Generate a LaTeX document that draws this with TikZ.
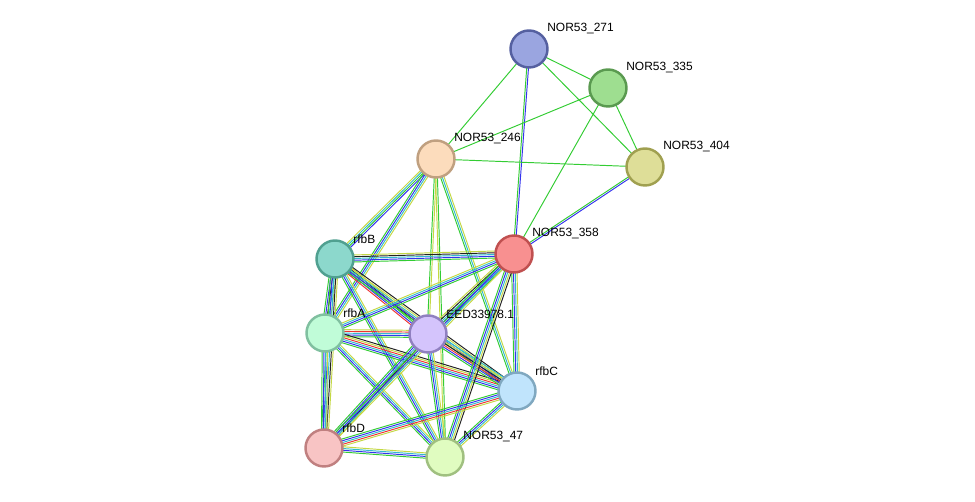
\documentclass[tikz,border=0pt]{standalone}
\usepackage{fontspec}
\setmainfont{Liberation Sans}
\usetikzlibrary{calc,backgrounds}
\definecolor{eg}{HTML}{33CC33}
\definecolor{eb}{HTML}{3333EE}
\definecolor{ec}{HTML}{33BBCC}
\definecolor{ey}{HTML}{C4D844}
\definecolor{ek}{HTML}{222222}
\definecolor{er}{HTML}{EE3333}
\tikzset{pn/.style={circle,draw,line width=1.4pt,minimum size=0.74cm,inner sep=0pt},
         lbl/.style={anchor=west,inner sep=0pt,font=\fontsize{6.8}{8}\selectfont}}
% edge with parallel coloured strands
\newcommand{\lnk}[4]{%
  \foreach \cc [count=\i] in {#4} {
    \pgfmathsetmacro{\off}{(\i-0.5-#3/2)*1.0}
    \draw[draw=e\cc,line width=0.55pt] ($(#1)!\off pt!90:(#2)$) -- ($(#2)!\off pt!-90:(#1)$);
  }}
\begin{document}
\begin{tikzpicture}[x=0.02cm,y=-0.02cm]
\useasboundingbox (0,0) rectangle (975,502);
% proteins
\node[pn,fill={rgb,255:red,154;green,165;blue,224},draw={rgb,255:red,85;green,96;blue,160}] (n271) at (529,49) {};
\node[pn,fill={rgb,255:red,158;green,222;blue,144},draw={rgb,255:red,90;green,154;blue,80}] (n335) at (608,88) {};
\node[pn,fill={rgb,255:red,222;green,222;blue,152},draw={rgb,255:red,160;green,160;blue,80}] (n404) at (645,167) {};
\node[pn,fill={rgb,255:red,252;green,220;blue,188},draw={rgb,255:red,192;green,160;blue,128}] (n246) at (436,159) {};
\node[pn,fill={rgb,255:red,248;green,144;blue,144},draw={rgb,255:red,192;green,80;blue,80}] (n358) at (514,254) {};
\node[pn,fill={rgb,255:red,140;green,216;blue,204},draw={rgb,255:red,80;green,160;blue,144}] (rfbB) at (335,259) {};
\node[pn,fill={rgb,255:red,192;green,252;blue,216},draw={rgb,255:red,128;green,192;blue,160}] (rfbA) at (325,333) {};
\node[pn,fill={rgb,255:red,212;green,196;blue,252},draw={rgb,255:red,144;green,128;blue,192}] (eed) at (428,334) {};
\node[pn,fill={rgb,255:red,192;green,228;blue,252},draw={rgb,255:red,128;green,168;blue,192}] (rfbC) at (517,391) {};
\node[pn,fill={rgb,255:red,248;green,196;blue,196},draw={rgb,255:red,192;green,128;blue,128}] (rfbD) at (324,448) {};
\node[pn,fill={rgb,255:red,224;green,252;blue,192},draw={rgb,255:red,160;green,192;blue,128}] (n47) at (445,457) {};
% labels
\node[lbl] (l271) at ($(n271)+(18,-20)$) {NOR53\_271};
\node[lbl] (l335) at ($(n335)+(18,-20)$) {NOR53\_335};
\node[lbl] (l404) at ($(n404)+(18,-20)$) {NOR53\_404};
\node[lbl] (l246) at ($(n246)+(18,-20)$) {NOR53\_246};
\node[lbl] (l358) at ($(n358)+(18,-20)$) {NOR53\_358};
\node[lbl] (lB) at ($(rfbB)+(18,-20)$) {rfbB};
\node[lbl] (lA) at ($(rfbA)+(18,-20)$) {rfbA};
\node[lbl] (leed) at ($(eed)+(18,-20)$) {EED33978.1};
\node[lbl] (lC) at ($(rfbC)+(18,-20)$) {rfbC};
\node[lbl] (lD) at ($(rfbD)+(18,-20)$) {rfbD};
\node[lbl] (l47) at ($(n47)+(18,-20)$) {NOR53\_47};
\begin{scope}[on background layer]
\lnk{n271}{n246}{1}{g}
\lnk{n271}{n335}{1}{g}
\lnk{n271}{n404}{1}{g}
\lnk{n271}{n358}{2}{g,b}
\lnk{n335}{n246}{1}{g}
\lnk{n335}{n358}{1}{g}
\lnk{n335}{n404}{1}{g}
\lnk{n246}{n404}{1}{g}
\lnk{n404}{n358}{2}{g,b}
\lnk{n246}{rfbB}{4}{y,c,g,b}
\lnk{n246}{rfbA}{4}{g,b,c,y}
\lnk{n246}{eed}{2}{g,y}
\lnk{n246}{rfbC}{3}{g,c,y}
\lnk{n246}{n47}{2}{y,g}
\lnk{rfbB}{n358}{5}{g,b,c,k,y}
\lnk{rfbB}{rfbA}{5}{g,b,k,c,y}
\lnk{rfbB}{eed}{5}{r,b,g,k,y}
\lnk{rfbB}{rfbC}{5}{g,b,c,y,k}
\lnk{rfbB}{rfbD}{5}{g,b,c,k,y}
\lnk{rfbB}{n47}{4}{g,b,c,y}
\lnk{rfbA}{n358}{4}{g,b,c,y}
\lnk{rfbA}{eed}{5}{g,b,c,r,y}
\lnk{rfbA}{rfbC}{6}{g,b,c,r,y,k}
\lnk{rfbA}{rfbD}{4}{g,b,c,y}
\lnk{rfbA}{n47}{4}{g,b,c,y}
\lnk{eed}{n358}{5}{g,b,c,k,y}
\lnk{eed}{rfbC}{6}{g,b,r,k,y,c}
\lnk{eed}{rfbD}{5}{g,b,c,k,y}
\lnk{eed}{n47}{4}{g,b,c,y}
\lnk{n358}{rfbC}{4}{g,b,c,y}
\lnk{n358}{rfbD}{4}{g,b,c,y}
\lnk{n358}{n47}{5}{g,b,c,y,k}
\lnk{rfbC}{rfbD}{5}{g,b,c,r,y}
\lnk{rfbC}{n47}{4}{g,b,c,y}
\lnk{rfbD}{n47}{4}{g,b,c,y}
\end{scope}
\end{tikzpicture}
\end{document}
